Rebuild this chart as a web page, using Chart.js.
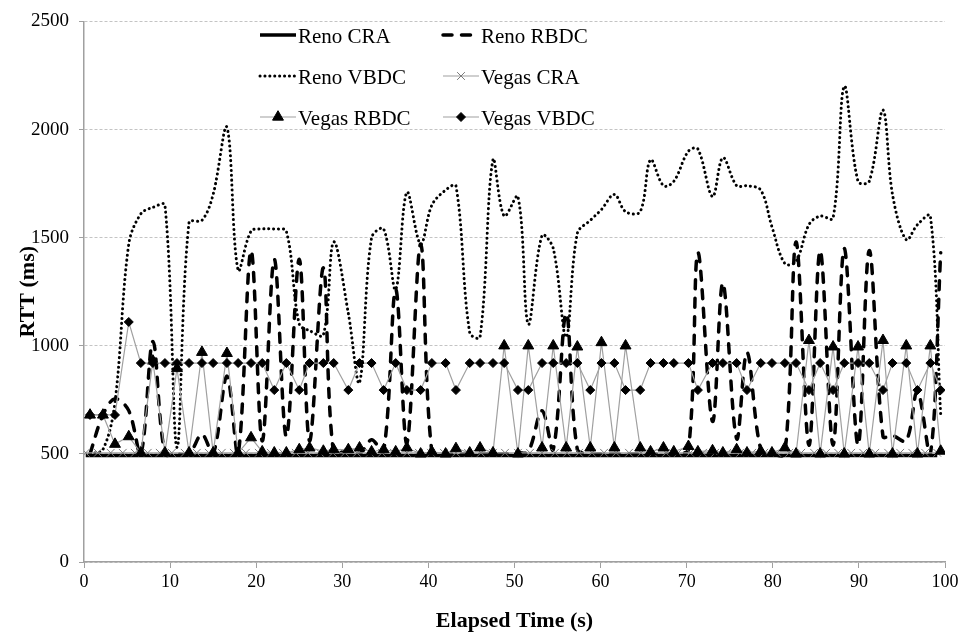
<!DOCTYPE html>
<html>
<head>
<meta charset="utf-8">
<title>RTT over elapsed time</title>
<script src="https://cdn.jsdelivr.net/npm/chart.js@4.4.1/dist/chart.umd.min.js"></script>
<style>
  html, body { margin: 0; padding: 0; background: #fff; }
  #wrap { width: 964px; height: 644px; position: relative; }
</style>
</head>
<body>
<div id="wrap"><canvas id="rtt-chart"></canvas></div>
<script>
// sample times (s) for the RBDC / VBDC runs
const sampleTimes = [
  0.7, 2.2, 3.6, 5.2, 6.6, 8.0, 9.4, 10.8, 12.2, 13.7,
  15.0, 16.6, 17.9, 19.4, 20.7, 22.1, 23.5, 25.0, 26.2, 27.8,
  29.0, 30.7, 32.0, 33.4, 34.8, 36.2, 37.5, 39.1, 40.4, 42.0,
  43.2, 44.8, 46.0, 47.5, 48.8, 50.4, 51.6, 53.2, 54.5, 56.0,
  57.3, 58.8, 60.1, 61.6, 62.9, 64.6, 65.8, 67.3, 68.5, 70.2,
  71.3, 73.0, 74.2, 75.8, 77.0, 78.6, 79.9, 81.4, 82.7, 84.2,
  85.5, 87.0, 88.3, 89.9, 91.2, 92.8, 93.9, 95.5, 96.8, 98.3,
  99.5
];

// sample times (s) for the CRA runs
const craTimes = [
  0.2, 1.6, 3.1, 4.5, 5.9, 7.4, 8.8, 10.2, 11.7, 13.1,
  14.5, 16.0, 17.4, 18.8, 20.3, 21.7, 23.1, 24.6, 26.0, 27.4,
  28.9, 30.3, 31.7, 33.2, 34.6, 36.0, 37.5, 38.9, 40.3, 41.8,
  43.2, 44.6, 46.1, 47.5, 48.9, 50.4, 51.8, 53.2, 54.7, 56.1,
  57.5, 59.0, 60.4, 61.8, 63.3, 64.7, 66.1, 67.6, 69.0, 70.4,
  71.9, 73.3, 74.7, 76.2, 77.6, 79.0, 80.5, 81.9, 83.3, 84.8,
  86.2, 87.6, 89.1, 90.5, 91.9, 93.4, 94.8, 96.2, 97.7, 99.1
];

// RTT (ms)
const renoCRA = [
  493, 493, 493, 493, 493, 493, 493, 493, 493, 493,
  493, 493, 493, 493, 493, 493, 493, 493, 493, 493,
  493, 493, 493, 493, 493, 493, 493, 493, 493, 493,
  493, 493, 493, 493, 493, 493, 493, 493, 493, 493,
  493, 493, 493, 493, 493, 493, 493, 493, 493, 493,
  493, 493, 493, 493, 493, 493, 493, 493, 493, 493,
  493, 493, 493, 493, 493, 493, 493, 493, 493, 493
];

const renoRBDC = [
  500, 680, 755, 700, 500, 1020, 500, 500, 500, 590,
  500, 860, 500, 1440, 560, 1400, 580, 1400, 560, 1360,
  500, 520, 500, 565, 510, 1260, 550, 1470, 510, 500,
  500, 500, 500, 500, 500, 505, 510, 700, 520, 1150,
  520, 500, 500, 500, 500, 500, 500, 500, 500, 520,
  1430, 650, 1290, 570, 970, 520, 500, 500, 1480, 540,
  1440, 540, 1450, 540, 1440, 580, 585, 560, 790, 500,
  1430
];

const renoVBDC = [
  500, 520, 740, 1470, 1610, 1640, 1650, 530, 1570, 1580,
  1700, 2010, 1350, 1530, 1540, 1540, 1530, 1100, 1070, 1050,
  1480, 1150, 830, 1500, 1540, 1260, 1710, 1470, 1650, 1720,
  1740, 1060, 1040, 1860, 1600, 1690, 1100, 1510, 1450, 1040,
  1520, 1580, 1630, 1700, 1620, 1620, 1860, 1740, 1760, 1900,
  1910, 1690, 1870, 1740, 1740, 1720, 1550, 1380, 1390, 1560,
  1600, 1590, 2200, 1760, 1760, 2090, 1700, 1490, 1560, 1600,
  680
];

const vegasCRA = [
  505, 505, 505, 505, 505, 505, 505, 505, 505, 505,
  505, 505, 505, 505, 505, 505, 505, 505, 505, 505,
  505, 505, 505, 505, 505, 505, 505, 505, 505, 505,
  505, 505, 505, 505, 505, 505, 505, 505, 505, 505,
  505, 505, 505, 505, 505, 505, 505, 505, 505, 505,
  505, 505, 505, 505, 505, 505, 505, 505, 505, 505,
  505, 505, 505, 505, 505, 505, 505, 505, 505, 505
];

const vegasRBDC = [
  680, 680, 545, 580, 505, 930, 505, 895, 505, 970,
  505, 965, 505, 575, 510, 505, 505, 520, 528, 513,
  520, 520, 528, 510, 520, 510, 528, 500, 510, 500,
  525, 505, 528, 505, 1000, 500, 1000, 528, 1000, 528,
  995, 528, 1015, 528, 1000, 528, 510, 528, 510, 535,
  510, 515, 505, 520, 505, 513, 505, 528, 500, 1025,
  500, 995, 500, 995, 500, 1025, 500, 1000, 500, 1000,
  513
];

const vegasVBDC = [
  680, 680, 680, 1110, 920, 920, 920, 920, 920, 920,
  920, 920, 920, 920, 920, 795, 920, 795, 920, 920,
  920, 795, 920, 920, 795, 920, 795, 795, 920, 920,
  795, 920, 920, 920, 920, 795, 795, 920, 920, 920,
  920, 795, 920, 920, 795, 795, 920, 920, 920, 920,
  795, 920, 920, 920, 795, 920, 920, 920, 920, 795,
  920, 795, 920, 920, 920, 795, 920, 920, 795, 920,
  795
];

const yTicks = [0, 500, 1000, 1500, 2000, 2500];

function points(xs, ys) {
  return xs.map((x, i) => ({ x: x, y: ys[i] }));
}

const serif = '"Liberation Serif", "Times New Roman", serif';
const gray = '#a0a0a0';

const datasets = [
  {
    label: 'Reno CRA',
    data: points(craTimes, renoCRA),
    borderColor: '#000', borderWidth: 3.5,
    pointRadius: 0, tension: 0, order: 6
  },
  {
    label: 'Reno RBDC',
    data: points(sampleTimes, renoRBDC),
    borderColor: '#000', borderWidth: 3.5,
    borderDash: [9, 9.5], borderCapStyle: 'round',
    pointRadius: 0, tension: 0.35, order: 5
  },
  {
    label: 'Reno VBDC',
    data: points(sampleTimes, renoVBDC),
    borderColor: '#000', borderWidth: 3,
    borderDash: [0.1, 4.8], borderCapStyle: 'round',
    pointRadius: 0, tension: 0.35, order: 4
  },
  {
    label: 'Vegas CRA',
    data: points(craTimes, vegasCRA),
    borderColor: gray, borderWidth: 1.2,
    pointStyle: 'crossRot', pointRadius: 5.5,
    pointBorderColor: '#7a7a7a', pointBorderWidth: 1,
    tension: 0, order: 3
  },
  {
    label: 'Vegas RBDC',
    data: points(sampleTimes, vegasRBDC),
    borderColor: gray, borderWidth: 1.2,
    pointStyle: 'triangle', pointRadius: 6.3,
    pointBackgroundColor: '#000', pointBorderColor: '#000', pointBorderWidth: 1,
    tension: 0, order: 2
  },
  {
    label: 'Vegas VBDC',
    data: points(sampleTimes, vegasVBDC),
    borderColor: gray, borderWidth: 1.2,
    pointStyle: 'rectRot', pointRadius: 4.5,
    pointBackgroundColor: '#000', pointBorderColor: '#000', pointBorderWidth: 1,
    tension: 0, order: 1
  }
];

// small marker shapes for the legend samples
function drawMarker(ctx, style, x, y, r) {
  ctx.beginPath();
  if (style === 'triangle') {
    ctx.moveTo(x, y - r);
    ctx.lineTo(x + r * 0.866, y + r * 0.5);
    ctx.lineTo(x - r * 0.866, y + r * 0.5);
    ctx.closePath();
    ctx.fill();
    ctx.stroke();
  } else if (style === 'rectRot') {
    ctx.moveTo(x - r, y);
    ctx.lineTo(x, y - r);
    ctx.lineTo(x + r, y);
    ctx.lineTo(x, y + r);
    ctx.closePath();
    ctx.fill();
    ctx.stroke();
  } else if (style === 'crossRot') {
    const d = r * 0.707;
    ctx.moveTo(x - d, y - d);
    ctx.lineTo(x + d, y + d);
    ctx.moveTo(x + d, y - d);
    ctx.lineTo(x - d, y + d);
    ctx.stroke();
  }
}

// legend laid out in two columns inside the plot area
const insideLegend = {
  id: 'insideLegend',
  afterDatasetsDraw(chart) {
    const ctx = chart.ctx;
    const cols = [260, 443];
    const rows = [35, 76, 117];
    chart.data.datasets.forEach((ds, i) => {
      const x = cols[i % 2];
      const y = rows[Math.floor(i / 2)];
      ctx.save();
      ctx.strokeStyle = ds.borderColor;
      ctx.lineWidth = ds.borderWidth;
      ctx.lineCap = ds.borderCapStyle || 'butt';
      ctx.setLineDash(ds.borderDash || []);
      ctx.beginPath();
      ctx.moveTo(x, y);
      ctx.lineTo(x + 36, y);
      ctx.stroke();
      if (ds.pointStyle) {
        ctx.setLineDash([]);
        ctx.lineWidth = ds.pointBorderWidth;
        ctx.strokeStyle = ds.pointBorderColor;
        ctx.fillStyle = ds.pointBackgroundColor || ds.pointBorderColor;
        drawMarker(ctx, ds.pointStyle, x + 18, y, ds.pointRadius);
      }
      ctx.fillStyle = '#000';
      ctx.font = '21px ' + serif;
      ctx.textBaseline = 'middle';
      ctx.textAlign = 'left';
      ctx.fillText(ds.label, x + 38, y + 2);
      ctx.restore();
    });
  }
};

new Chart(document.getElementById('rtt-chart'), {
  type: 'line',
  data: { datasets: datasets },
  options: {
    responsive: true,
    maintainAspectRatio: false,
    animation: false,
    layout: { padding: { left: 0, right: 19, top: 16, bottom: 0 } },
    plugins: {
      legend: { display: false },
      tooltip: { enabled: false }
    },
    scales: {
      x: {
        type: 'linear',
        min: 0,
        max: 100,
        ticks: {
          stepSize: 10,
          color: '#000',
          padding: 3,
          font: { family: serif, size: 18 }
        },
        grid: { drawOnChartArea: false, tickLength: 6, tickColor: '#a0a0a0' },
        border: { color: '#a0a0a0', width: 1.5 },
        title: {
          display: true,
          text: 'Elapsed Time (s)',
          color: '#000',
          font: { family: serif, size: 22, weight: 'bold' },
          padding: { top: 0, bottom: 9 }
        },
        afterFit(scale) { scale.height = 82; }
      },
      y: {
        min: 0,
        max: 2500,
        afterBuildTicks(scale) { scale.ticks = yTicks.map(v => ({ value: v })); },
        ticks: {
          color: '#000',
          padding: 10,
          font: { family: serif, size: 19 },
          callback: (v) => String(v)
        },
        grid: { color: '#c4c4c4', tickLength: 5, tickColor: '#a0a0a0', tickBorderDash: [] },
        border: { color: '#a0a0a0', width: 1.5, dash: [3, 2] },
        title: {
          display: true,
          text: 'RTT (ms)',
          color: '#000',
          font: { family: serif, size: 22, weight: 'bold' },
          padding: { top: 15, bottom: 0 }
        },
        afterFit(scale) { scale.width = 84; }
      }
    }
  },
  plugins: [insideLegend]
});
</script>
</body>
</html>
